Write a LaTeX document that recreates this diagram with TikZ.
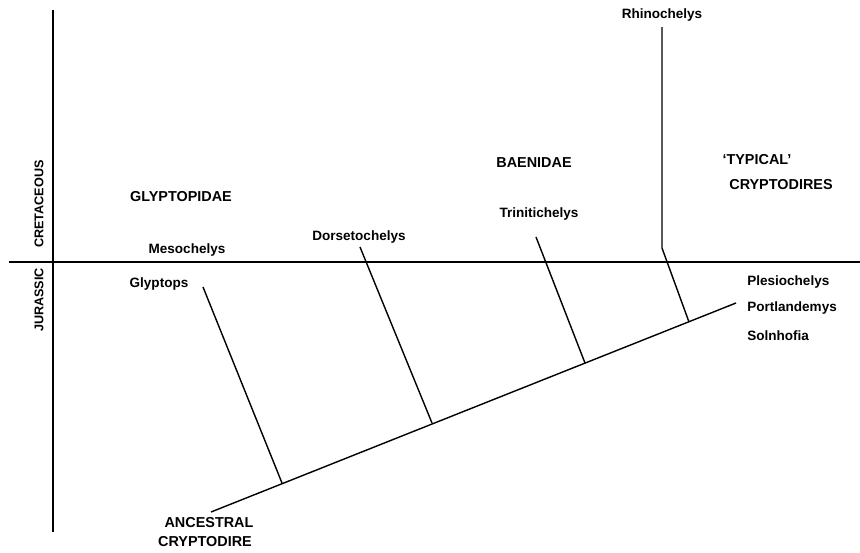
\documentclass[tikz,border=0pt]{standalone}
\usepackage{fontspec}
\setmainfont{Liberation Sans}
\usepackage{tikz}
\tikzset{grouplabel/.style={font=\bfseries\fontsize{8.2}{9.5}\selectfont,inner sep=0},
    taxonlabel/.style={font=\bfseries\fontsize{7.7}{9}\selectfont,inner sep=0},
    periodlabel/.style={font=\bfseries\fontsize{7.2}{8.5}\selectfont,inner sep=0,rotate=90},
    lineage/.style={line width=0.8pt}
}

\begin{document}
\begin{tikzpicture}[x=0.02cm,y=-0.02cm]
\useasboundingbox (0,0) rectangle (860,552);

% time scale

\coordinate (axisTop) at (53,10);
\coordinate (axisBot) at (53,532);
\coordinate (bndL) at (9,262);
\coordinate (bndR) at (860,262);

\draw [lineage] (axisTop) -- (axisBot);
\draw [lineage] (bndL) -- (bndR);

\node (cret) at (39,204) [periodlabel] {CRETACEOUS};
\node (jur) at (39,300) [periodlabel] {JURASSIC};

% main stem

\coordinate (ancBase) at (211,512);
\coordinate (stemTip) at (736,303);

\draw [lineage] (ancBase) -- (stemTip);

\node (anc1) at (209,523) [grouplabel] {ANCESTRAL};
\node (anc2) at (205,542) [grouplabel] {CRYPTODIRE};

% side branches

\coordinate (glyTop) at (203,287);
\coordinate (glyJoin) at (282,483);
\coordinate (dorTop) at (360,247);
\coordinate (dorJoin) at (432,423);
\coordinate (triTop) at (536,237);
\coordinate (triJoin) at (585,363);
\coordinate (rhiTop) at (662,27);
\coordinate (rhiBend) at (662,248);
\coordinate (rhiJoin) at (689,322);

\draw [lineage] (glyTop) -- (glyJoin);
\draw [lineage] (dorTop) -- (dorJoin);
\draw [lineage] (triTop) -- (triJoin);
\draw [lineage] (rhiTop) -- (rhiBend) -- (rhiJoin);

% group names

\node (glyptopidae) at (181,197) [grouplabel] {GLYPTOPIDAE};
\node (baenidae) at (534,163) [grouplabel] {BAENIDAE};
\node (typical) at (757,160) [grouplabel] {`TYPICAL'};
\node (cryptodires) at (781,185) [grouplabel] {CRYPTODIRES};

% taxa

\node (mesochelys) at (187,250) [taxonlabel] {Mesochelys};
\node (glyptops) at (159,284) [taxonlabel] {Glyptops};
\node (dorsetochelys) at (359,237) [taxonlabel] {Dorsetochelys};
\node (trinitichelys) at (539,214) [taxonlabel] {Trinitichelys};
\node (rhinochelys) at (662,15) [taxonlabel] {Rhinochelys};
\node (plesiochelys) at (747,282) [taxonlabel,anchor=west] {Plesiochelys};
\node (portlandemys) at (747,308) [taxonlabel,anchor=west] {Portlandemys};
\node (solnhofia) at (747,336) [taxonlabel,anchor=west] {Solnhofia};

\end{tikzpicture}
\end{document}
